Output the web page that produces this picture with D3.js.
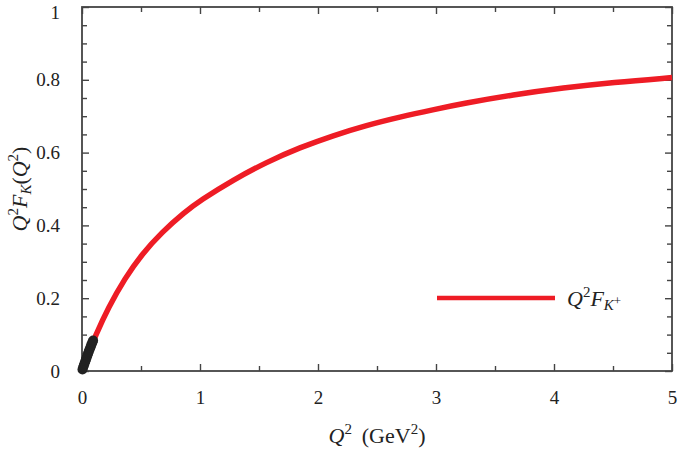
<!DOCTYPE html>
<html>
<head>
<meta charset="utf-8">
<script src="https://cdn.jsdelivr.net/npm/d3@7"></script>
<style>
  html, body { margin: 0; padding: 0; background: #fff; }
  svg { display: block; }
  text { font-family: "Liberation Serif", "DejaVu Serif", serif; fill: #222; }
</style>
</head>
<body>
<svg id="chart" width="679" height="449"></svg>
<script>
// ---- data ----
const curveQ2 = [0, 0.05, 0.11, 0.223, 0.364, 0.506, 0.675, 0.873, 1.0, 1.282, 1.565, 1.847, 2.13, 2.41, 2.695, 2.977, 3.23, 3.655, 4.08, 4.5, 5.0];
const curveVal = [0, 0.047, 0.094, 0.174, 0.255, 0.320, 0.381, 0.437, 0.468, 0.525, 0.574, 0.614, 0.647, 0.675, 0.698, 0.718, 0.735, 0.759, 0.778, 0.793, 0.806];

const dataQ2 = [0.004, 0.01, 0.016, 0.022, 0.028, 0.034, 0.04, 0.046, 0.052, 0.058, 0.064, 0.07, 0.076, 0.082, 0.088, 0.094];
const dataVal = [0.004, 0.010, 0.016, 0.021, 0.027, 0.032, 0.038, 0.043, 0.049, 0.054, 0.059, 0.064, 0.069, 0.074, 0.079, 0.084];
const dataErr = [0.004, 0.005, 0.005, 0.006, 0.006, 0.006, 0.007, 0.007, 0.007, 0.008, 0.008, 0.008, 0.009, 0.009, 0.009, 0.01];

const xMajorTicks = [0, 1, 2, 3, 4, 5];
const xMinorTicks = [0.5, 1.5, 2.5, 3.5, 4.5];
const yMajorTicks = [0, 0.2, 0.4, 0.6, 0.8, 1];
const yMinorTicks = [0.05, 0.1, 0.15, 0.25, 0.3, 0.35, 0.45, 0.5, 0.55, 0.65, 0.7, 0.75, 0.85, 0.9, 0.95];

// ---- layout ----
const L = 82, R = 672, T = 7, B = 371;
const svg = d3.select("#chart");
const x = d3.scaleLinear().domain([0, 5]).range([L, R]);
const y = d3.scaleLinear().domain([0, 1]).range([B, T]);

const axisColor = "#444";
const fs = 19;
const big = 22, sup = 15;

function styleAxis(g) {
  g.select(".domain").remove();
  g.selectAll(".tick line").attr("stroke", axisColor).attr("stroke-width", 1.4);
  g.selectAll(".tick text").attr("font-size", fs).attr("fill", "#222")
    .attr("font-family", '"Liberation Serif", serif');
}

// bottom
svg.append("g").attr("transform", `translate(0,${B})`)
  .call(d3.axisBottom(x).tickValues(xMajorTicks).tickSize(-7).tickPadding(20).tickFormat(d3.format("d")))
  .call(styleAxis);
svg.append("g").attr("transform", `translate(0,${B})`)
  .call(d3.axisBottom(x).tickValues(xMinorTicks).tickSize(-5).tickFormat(""))
  .call(styleAxis);
// top
svg.append("g").attr("transform", `translate(0,${T})`)
  .call(d3.axisTop(x).tickValues(xMajorTicks).tickSize(-7).tickFormat(""))
  .call(styleAxis);
svg.append("g").attr("transform", `translate(0,${T})`)
  .call(d3.axisTop(x).tickValues(xMinorTicks).tickSize(-5).tickFormat(""))
  .call(styleAxis);
// left
const yl = svg.append("g").attr("transform", `translate(${L},0)`)
  .call(d3.axisLeft(y).tickValues(yMajorTicks).tickSize(-7).tickPadding(22).tickFormat(d => d === 0 || d === 1 ? d3.format("d")(d) : d3.format(".1f")(d)))
  .call(styleAxis);
yl.selectAll(".tick text").filter(d => d === 1).attr("dy", "0.62em");
svg.append("g").attr("transform", `translate(${L},0)`)
  .call(d3.axisLeft(y).tickValues(yMinorTicks).tickSize(-5).tickFormat(""))
  .call(styleAxis);
// right
svg.append("g").attr("transform", `translate(${R},0)`)
  .call(d3.axisRight(y).tickValues(yMajorTicks).tickSize(-7).tickFormat(""))
  .call(styleAxis);
svg.append("g").attr("transform", `translate(${R},0)`)
  .call(d3.axisRight(y).tickValues(yMinorTicks).tickSize(-5).tickFormat(""))
  .call(styleAxis);

// frame
svg.append("rect").attr("x", L).attr("y", T).attr("width", R - L).attr("height", B - T)
  .attr("fill", "none").attr("stroke", axisColor).attr("stroke-width", 1.8);

// curve
const curvePts = curveQ2.map((q, i) => [q, curveVal[i]]);
const line = d3.line().x(d => x(d[0])).y(d => y(d[1])).curve(d3.curveBasis);
svg.append("path").datum(curvePts).attr("d", line)
  .attr("fill", "none").attr("stroke", "#ee1c25").attr("stroke-width", 5.5);

// data points with error bars
const pts = dataQ2.map((q, i) => ({ q, v: dataVal[i], e: dataErr[i] }));
const dg = svg.append("g");
dg.selectAll("line.err").data(pts).enter().append("line")
  .attr("x1", d => x(d.q)).attr("x2", d => x(d.q))
  .attr("y1", d => y(d.v - d.e)).attr("y2", d => y(d.v + d.e))
  .attr("stroke", "#222").attr("stroke-width", 1.5);
dg.selectAll("circle").data(pts).enter().append("circle")
  .attr("cx", d => x(d.q)).attr("cy", d => y(d.v)).attr("r", 5)
  .attr("fill", "#222");

// axis titles
const xt = svg.append("text").attr("x", (L + R) / 2).attr("y", 443).attr("text-anchor", "middle").attr("font-size", big);
xt.append("tspan").attr("font-style", "italic").text("Q");
xt.append("tspan").attr("font-size", sup).attr("dy", -9).text("2");
xt.append("tspan").attr("dy", 9).text("\u2009 (GeV");
xt.append("tspan").attr("font-size", sup).attr("dy", -9).text("2");
xt.append("tspan").attr("dy", 9).text(")");

const yt = svg.append("text").attr("transform", `translate(27,${(T + B) / 2}) rotate(-90)`)
  .attr("text-anchor", "middle").attr("font-size", big);
yt.append("tspan").attr("font-style", "italic").text("Q");
yt.append("tspan").attr("font-size", sup).attr("dy", -9).text("2");
yt.append("tspan").attr("font-style", "italic").attr("dy", 9).text("F");
yt.append("tspan").attr("font-style", "italic").attr("font-size", sup).attr("dy", 4).text("K");
yt.append("tspan").attr("dy", -4).text("(");
yt.append("tspan").attr("font-style", "italic").text("Q");
yt.append("tspan").attr("font-size", sup).attr("dy", -9).text("2");
yt.append("tspan").attr("dy", 9).text(")");

// legend
svg.append("line").attr("x1", 437).attr("x2", 555).attr("y1", 298).attr("y2", 298)
  .attr("stroke", "#ee1c25").attr("stroke-width", 4.5);
const lt = svg.append("text").attr("x", 567).attr("y", 306).attr("font-size", big);
lt.append("tspan").attr("font-style", "italic").text("Q");
lt.append("tspan").attr("font-size", sup).attr("dy", -9).text("2");
lt.append("tspan").attr("font-style", "italic").attr("dy", 9).text("F");
lt.append("tspan").attr("font-style", "italic").attr("font-size", sup).attr("dy", 4).text("K");
lt.append("tspan").attr("font-size", 13).attr("dy", -5).text("+");
</script>
</body>
</html>
